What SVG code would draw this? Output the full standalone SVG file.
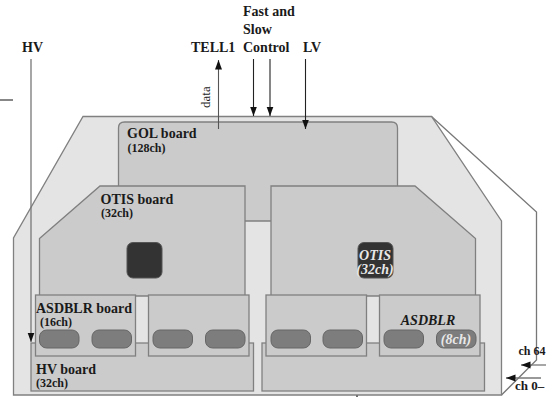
<svg xmlns="http://www.w3.org/2000/svg" width="546" height="397" viewBox="0 0 546 397">
<style>
text{font-family:"Liberation Serif","Times New Roman",serif;font-weight:bold;fill:#1a1a1a}
.l{font-size:14px}.s{font-size:12px}
.i{font-style:italic}
.w{fill:#e8e8e8;font-style:italic;font-size:14px}
.case{fill:#e4e4e4;stroke:#808080;stroke-width:1.3}
.board{fill:#cbcbcb;stroke:#808080;stroke-width:1.3}
.chip{fill:#7d7d7d;stroke:#666;stroke-width:1}
.otis{fill:#333;stroke:#555;stroke-width:1}
.c{fill:none;stroke:#222;stroke-width:1.1}
.g{fill:none;stroke:#777;stroke-width:1.3}
</style>
<defs><marker id="a" markerUnits="userSpaceOnUse" markerWidth="10" markerHeight="8" refX="9.500" refY="3.500" orient="auto"><path d="M0 0L9.500 3.500L0 7Z" fill="#111"/></marker></defs>
<g id="backplane"><path class="g" d="M431.500 116.500L536.500 212V360L501.500 395"/></g>
<g id="case"><path class="case" d="M83 116.500H431.500L501.500 221V395H13.500V238Z"/></g>
<g id="gol-board"><path class="board" d="M118.500 221V128Q118.500 122 124.500 122H391.500Q397.500 122 397.500 128V221Z"/><text class="l" x="127" y="138">GOL board</text><text class="s" x="127.500" y="152">(128ch)</text></g>
<g id="otis-left"><path class="board" d="M39.500 238.500L100 186H245V296H39.500Z"/><text class="l" x="100.500" y="204">OTIS board</text><text class="s" x="101" y="217">(32ch)</text><rect class="otis" x="127" y="242.500" width="35" height="35.500" rx="6"/></g>
<g id="otis-right"><path class="board" d="M271 186H415L475.500 238.500V296H271Z"/><rect class="otis" x="358" y="242.500" width="35" height="35.500" rx="6"/><text class="w" x="375" y="259.500" text-anchor="middle">OTIS</text><text class="w" x="375" y="274" text-anchor="middle">(32ch)</text></g>
<g id="hv-board-left"><rect class="board" x="31" y="343" width="222.500" height="48"/><text class="l" x="36" y="374">HV board</text><text class="s" x="36" y="387">(32ch)</text></g>
<g id="hv-board-right"><rect class="board" x="262" y="343" width="222.500" height="48"/></g>
<g id="asdblr-1"><rect class="board" x="35.500" y="295" width="100" height="61"/><text class="l" x="36" y="313">ASDBLR board</text><text class="s" x="40" y="326">(16ch)</text><rect class="chip" x="39.500" y="330" width="39.500" height="18" rx="7"/><rect class="chip" x="92" y="330" width="39.500" height="18" rx="7"/></g>
<g id="asdblr-2"><rect class="board" x="148.500" y="295" width="100.500" height="61"/><rect class="chip" x="153" y="330" width="39.500" height="18" rx="7"/><rect class="chip" x="205.500" y="330" width="39.500" height="18" rx="7"/></g>
<g id="asdblr-3"><rect class="board" x="266" y="295" width="100.500" height="61"/><rect class="chip" x="271" y="330" width="39.500" height="18" rx="7"/><rect class="chip" x="323" y="330" width="39.500" height="18" rx="7"/></g>
<g id="asdblr-4"><rect class="board" x="379.500" y="295" width="100.500" height="61"/><text class="l i" x="428" y="325" text-anchor="middle">ASDBLR</text><rect class="chip" x="384" y="330" width="39.500" height="18" rx="7"/><rect class="chip" x="436.500" y="330" width="39.500" height="18" rx="7"/><text class="w" x="456" y="343.500" text-anchor="middle">(8ch)</text></g>
<g id="connectors">
<path class="g" d="M31 59V342" marker-end="url(#a)"/>
<path class="c" style="stroke:#555" d="M218.500 129V60" marker-end="url(#a)"/>
<path class="c" d="M253.500 59V116" marker-end="url(#a)"/>
<path class="c" d="M270 59V116" marker-end="url(#a)"/>
<path class="c" d="M305.500 59V129" marker-end="url(#a)"/>
<path class="g" d="M546 365H521" marker-end="url(#a)"/>
<path class="g" d="M541 378H506" marker-end="url(#a)"/>
<path d="M0 100H13M357 395.500V397" stroke="#111" stroke-width="1.2" fill="none"/>
</g>
<g id="labels">
<text class="l" x="22" y="52">HV</text>
<text class="l" x="191" y="52">TELL1</text>
<text class="l" x="243" y="16">Fast and</text>
<text class="l" x="243" y="34">Slow</text>
<text class="l" x="243" y="52">Control</text>
<text class="l" x="303" y="52">LV</text>
<text transform="translate(210 108) rotate(-90)" style="font-weight:normal;font-size:13px">data</text>
<text class="s" x="518.500" y="355">ch 64</text>
<text class="l" style="font-size:13px" x="515" y="390">ch 0–</text>
</g>
</svg>
